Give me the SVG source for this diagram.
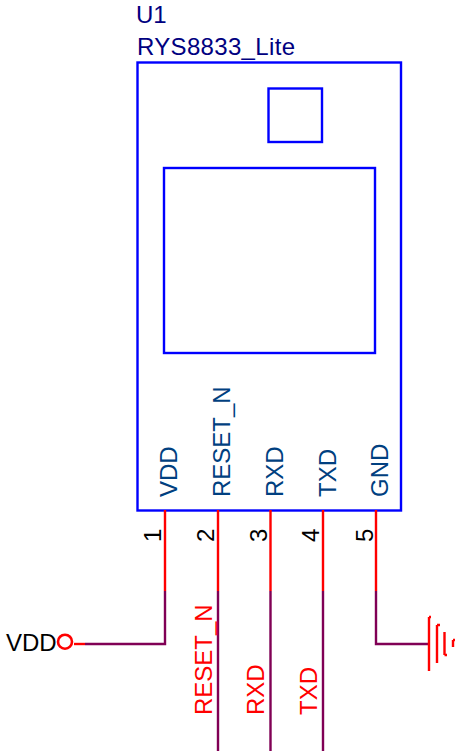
<svg xmlns="http://www.w3.org/2000/svg" width="457" height="751" viewBox="0 0 457 751">
<style>
text{font-family:"Liberation Sans",Arial,sans-serif;font-size:24px}
.body{fill:none;stroke:#0000ff;stroke-width:2.400}
.pin{fill:none;stroke:#ff0000;stroke-width:2.400}
.wire{fill:none;stroke:#800055;stroke-width:2.400}
.ref{fill:#000080}
.pn{fill:#004080}
.num{fill:#000}
.net{fill:#ff0000}
</style>
<rect width="457" height="751" fill="#fff"/>
<g id="U1">
<rect class="body" x="137.500" y="62.500" width="263.500" height="448"/>
<rect class="body" x="268.500" y="88.500" width="53.500" height="53.500"/>
<rect class="body" x="164" y="168" width="211" height="185"/>
<text class="ref" x="136" y="23">U1</text>
<text class="ref" x="137" y="55" textLength="158">RYS8833_Lite</text>
</g>
<g id="pins">
<path class="pin" d="M165 510V591M218 510V591M270.500 510V591M323 510V591M376 510V591"/>
<g class="pn">
<text transform="translate(177,497) rotate(-90)">VDD</text>
<text transform="translate(230,497) rotate(-90)">RESET_N</text>
<text transform="translate(283,497) rotate(-90)">RXD</text>
<text transform="translate(336,497) rotate(-90)">TXD</text>
<text transform="translate(388,497) rotate(-90)">GND</text>
</g>
<g class="num">
<text transform="translate(161,542) rotate(-90)">1</text>
<text transform="translate(214,542) rotate(-90)">2</text>
<text transform="translate(267,542) rotate(-90)">3</text>
<text transform="translate(319,542) rotate(-90)">4</text>
<text transform="translate(373,542) rotate(-90)">5</text>
</g>
</g>
<g id="connectors">
<path class="wire" d="M165 591V644H85M218 591V751M270.500 591V751M323 591V751M376 591V644H429"/>
</g>
<g id="VDD">
<circle cx="65" cy="641.700" r="7" fill="none" stroke="#ff0000" stroke-width="2.600"/>
<path class="pin" d="M74 644H85"/>
<text x="6" y="651" fill="#000">VDD</text>
</g>
<g id="GND">
<path class="pin" d="M429 617V671M429 617H431M437 625V663M437 625H440M444.500 632V655M444.500 655H447M453 640V647M453 640H455"/>
</g>
<g id="nets" class="net">
<text transform="translate(212,715) rotate(-90)">RESET_N</text>
<text transform="translate(264,715) rotate(-90)">RXD</text>
<text transform="translate(317,715) rotate(-90)">TXD</text>
</g>
</svg>
